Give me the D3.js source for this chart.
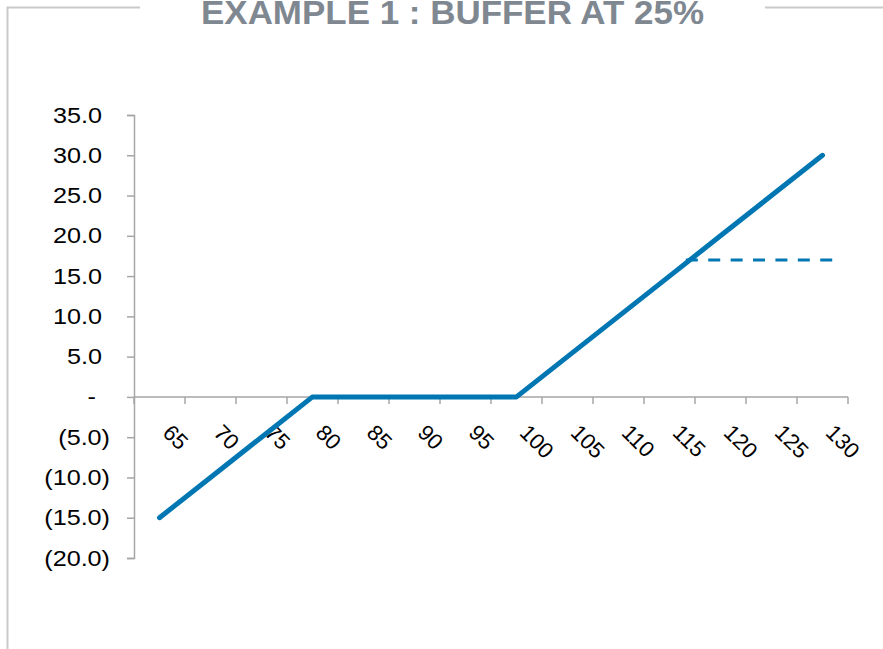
<!DOCTYPE html>
<html lang="en">
  <head>
   <meta http-equiv="Content-Type" content="text/html;charset=utf-8">
   <title>Example 1 : Buffer at 25%</title>
   <script type="text/javascript" src="https://cdn.jsdelivr.net/npm/d3@7/dist/d3.min.js"></script>
   <style>
     body { margin: 0; background: white; }
     text { font-family: "Liberation Sans", Arial, sans-serif; }
   </style>
  </head>
  <body>
<script>

// categories on the x axis (underlying price level)
var categories = ["65", "70", "75", "80", "85", "90", "95", "100", "105", "110", "115", "120", "125", "130"]
// payoff for each category
var payoff = [-15, -10, -5, 0, 0, 0, 0, 0, 5, 10, 15, 20, 25, 30]
// dashed cap line, x given in price units
var capX = [116.6, 131.1]
var capY = [17, 17]
// y ticks and their labels
var yTicks = [-20, -15, -10, -5, 0, 5, 10, 15, 20, 25, 30, 35]
var yTickLabels = ["(20.0)", "(15.0)", "(10.0)", "(5.0)", "-", "5.0", "10.0", "15.0", "20.0", "25.0", "30.0", "35.0"]

var width = 883, height = 649
var blue = "#0077B3", axisGrey = "#A6A6A6"

var svg = d3.select("body").append("svg")
  .attr("width", width)
  .attr("height", height)

// frame round the chart, broken by the title
svg.append("path")
  .attr("d", "M7.5,649 L7.5,7.5 L140,7.5 M765,7.5 L883,7.5")
  .attr("fill", "none")
  .attr("stroke", "#C9C9C9")
  .attr("stroke-width", 2)

// title sits partly above the top edge, as in the original
svg.append("text")
  .attr("x", 201)
  .attr("y", 24)
  .attr("textLength", 503)
  .attr("lengthAdjust", "spacingAndGlyphs")
  .attr("font-size", 34)
  .attr("font-weight", "bold")
  .attr("fill", "#7F8891")
  .text("EXAMPLE 1 : BUFFER AT 25%")

var x = d3.scaleBand().domain(categories).range([134, 848]).padding(0)
var bw = x.bandwidth()
var y = d3.scaleLinear().domain([-20, 35]).range([558, 115])
// price units -> pixels, through the category centres
var xPrice = d3.scaleLinear()
  .domain([+categories[0], +categories[categories.length - 1]])
  .range([x(categories[0]) + bw / 2, x(categories[categories.length - 1]) + bw / 2])

// y axis
var yAxis = d3.axisLeft(y).tickValues(yTicks).tickSize(7).tickPadding(0)
  .tickFormat(function(d, i){ return yTickLabels[i] })
var gy = svg.append("g").attr("transform", "translate(134,0)").call(yAxis)
gy.select(".domain").attr("stroke", axisGrey).attr("stroke-width", 1.5)
gy.selectAll(".tick line").attr("stroke", axisGrey).attr("stroke-width", 1.5)
gy.selectAll(".tick text")
  .attr("x", null)
  .attr("font-size", 22)
  .attr("fill", "black")
  .attr("font-family", "'Liberation Sans', Arial, sans-serif")
  .attr("transform", function(d){
    var right = d < 0 ? -24 : (d == 0 ? -38 : -32)
    return "translate(" + right + ",0) scale(1.145,1)"
  })

// x axis: line at zero, ticks between categories
var gx = svg.append("g")
gx.append("line")
  .attr("x1", x(categories[0])).attr("x2", x(categories[categories.length - 1]) + bw)
  .attr("y1", y(0)).attr("y2", y(0))
  .attr("stroke", axisGrey).attr("stroke-width", 1.5)
var bounds = categories.map(function(c){ return x(c) }).concat([x(categories[categories.length - 1]) + bw])
gx.selectAll("line.tick").data(bounds).enter().append("line")
  .attr("class", "tick")
  .attr("x1", function(d){ return d }).attr("x2", function(d){ return d })
  .attr("y1", y(0)).attr("y2", y(0) + 7)
  .attr("stroke", axisGrey).attr("stroke-width", 1.5)
gx.selectAll("text").data(categories).enter().append("text")
  .attr("transform", function(d){ return "translate(" + (x(d) + bw / 2 + 2) + "," + (y(0) + 37) + ") rotate(45)" })
  .attr("font-size", 22)
  .attr("fill", "black")
  .text(function(d){ return d })

// payoff line
var line = d3.line()
  .x(function(d, i){ return x(categories[i]) + bw / 2 })
  .y(function(d){ return y(d) })
svg.append("path")
  .datum(payoff)
  .attr("d", line)
  .attr("fill", "none")
  .attr("stroke", blue)
  .attr("stroke-width", 5)
  .attr("stroke-linecap", "round")
  .attr("stroke-linejoin", "round")

// dashed cap
var capLine = d3.line()
  .x(function(d){ return xPrice(d) })
  .y(function(d, i){ return y(capY[i]) })
svg.append("path")
  .datum(capX)
  .attr("d", capLine)
  .attr("fill", "none")
  .attr("stroke", blue)
  .attr("stroke-width", 3)
  .attr("stroke-dasharray", "12,10.4")

</script>
</body>
</html>
